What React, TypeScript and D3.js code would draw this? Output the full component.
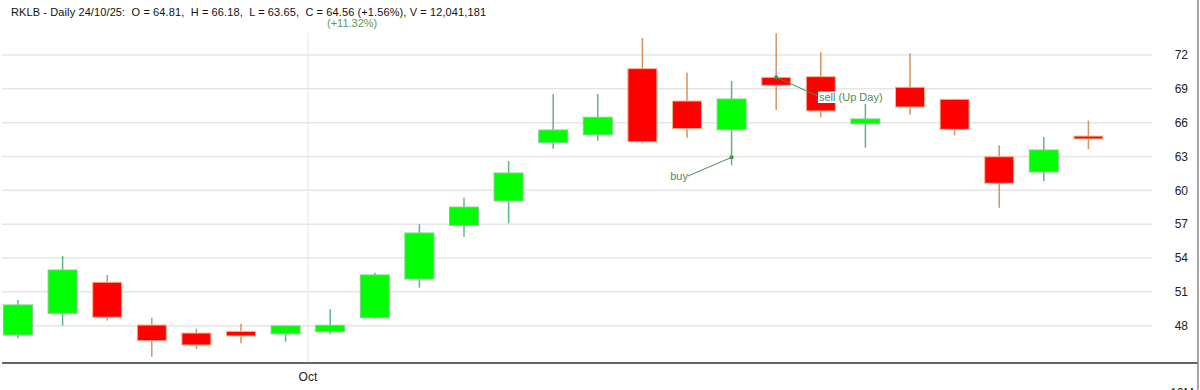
import React from "react";
import * as d3 from "d3";

const dates = [
  "2025-09-22", "2025-09-23", "2025-09-24", "2025-09-25", "2025-09-26", "2025-09-29", "2025-09-30",
  "2025-10-01", "2025-10-02", "2025-10-03", "2025-10-06", "2025-10-07", "2025-10-08", "2025-10-09",
  "2025-10-10", "2025-10-13", "2025-10-14", "2025-10-15", "2025-10-16", "2025-10-17", "2025-10-20",
  "2025-10-21", "2025-10-22", "2025-10-23", "2025-10-24",
];
const opens = [47.18, 49.1, 51.85, 48.06, 47.35, 47.5, 47.29, 47.47, 48.71, 52.14, 56.9, 59.06, 64.23, 64.93, 70.79, 67.92, 65.38, 70.02, 70.08, 65.91, 69.14, 68.07, 62.98, 61.63, 64.81];
const highs = [50.28, 54.18, 52.5, 48.71, 47.74, 48.18, 48.06, 49.46, 52.7, 56.99, 59.35, 62.6, 68.54, 68.54, 73.51, 70.43, 69.7, 73.92, 72.27, 67.66, 72.15, 68.07, 64.0, 64.73, 66.18];
const lows = [46.88, 48.0, 48.45, 45.25, 45.94, 46.44, 46.58, 47.24, 48.62, 51.37, 55.89, 57.08, 63.69, 64.4, 64.17, 64.67, 62.22, 67.12, 66.48, 63.78, 66.71, 64.88, 58.46, 60.8, 63.65];
const closes = [49.84, 52.94, 48.75, 46.67, 46.29, 47.09, 47.98, 48.04, 52.5, 56.22, 58.52, 61.54, 65.35, 66.48, 64.31, 65.47, 68.1, 69.31, 67.04, 66.33, 67.39, 65.41, 60.63, 63.58, 64.56];
const yTicks = [48, 51, 54, 57, 60, 63, 66, 69, 72];
const monthLabels = ["Oct"];
const title = "RKLB - Daily 24/10/25:  O = 64.81,  H = 66.18,  L = 63.65,  C = 64.56 (+1.56%), V = 12,041,181";
const subTitle = "(+11.32%)";
const signalDates = ["2025-10-14", "2025-10-15"];
const signalPrices = [62.93, 70.02];
const signalLabels = ["buy", "sell (Up Day)"];

export default function App() {
  const W = 1200, H = 390;
  const x = d3.scaleBand<string>().domain(dates).range([-4.3, 1110.7]).paddingInner(0.35).paddingOuter(0.175);
  const y = d3.scaleLinear().domain([48, 72]).range([325.7, 55]);
  const cx = (d: string) => (x(d) as number) + x.bandwidth() / 2;
  const bw = x.bandwidth();
  const octX = (cx("2025-09-30") + cx("2025-10-01")) / 2;
  const font = "'Liberation Sans', Arial, sans-serif";
  const sigColor = "#4f8a55";

  const buyX = cx(signalDates[0]), buyY = y(signalPrices[0]);
  const sellX = cx(signalDates[1]), sellY = y(signalPrices[1]);

  return (
    <svg width={W} height={H} style={{ position: "fixed", left: 0, top: 0, background: "#fff" }} fontFamily={font}>
      <rect x={0} y={0} width={W} height={H} fill="#fff" />
      {yTicks.map((t) => (
        <line key={t} x1={2} x2={1152} y1={y(t)} y2={y(t)} stroke="#e6e6e6" strokeWidth={1.5} />
      ))}
      <line x1={octX} x2={octX} y1={33} y2={363} stroke="#e6e6e6" strokeWidth={1} />
      {dates.map((d, i) => {
        const up = closes[i] >= opens[i];
        const top = y(Math.max(opens[i], closes[i]));
        const bot = y(Math.min(opens[i], closes[i]));
        const c = cx(d);
        return (
          <g key={d}>
            <line x1={c} x2={c} y1={y(highs[i])} y2={y(lows[i])} stroke={up ? "#5cb880" : "#d4935e"} strokeWidth={1.5} />
            <rect x={c - bw / 2} y={top} width={bw} height={Math.max(bot - top, 2)} fill={up ? "#00ff00" : "#ff0000"}
              stroke={up ? "#7ccf8a" : "#f3b58c"} strokeWidth={1} />
          </g>
        );
      })}
      <line x1={buyX} y1={buyY} x2={688} y2={176} stroke={sigColor} strokeWidth={1} />
      <circle cx={buyX} cy={buyY} r={2} fill={sigColor} />
      <text x={688} y={180} fontSize={11} fill={sigColor} textAnchor="end">{signalLabels[0]}</text>
      <line x1={sellX} y1={sellY} x2={818} y2={96} stroke={sigColor} strokeWidth={1} />
      <circle cx={sellX} cy={sellY} r={2} fill={sigColor} />
      <rect x={818} y={91.5} width={66} height={11.5} fill="#fff" />
      <text x={819} y={101} fontSize={11} fill={sigColor}>{signalLabels[1]}</text>
      <line x1={2} x2={1198} y1={363} y2={363} stroke="#666" strokeWidth={2} />
      <line x1={1198} x2={1198} y1={0} y2={H} stroke="#888" strokeWidth={1.5} />
      {yTicks.map((t) => (
        <text key={t} x={1188} y={y(t)} dy="0.35em" fontSize={12} fill="#222" textAnchor="end">{t}</text>
      ))}
      {monthLabels.map((m) => (
        <text key={m} x={octX} y={381} fontSize={12} fill="#222" textAnchor="middle">{m}</text>
      ))}
      <text x={1182} y={397} fontSize={12} fill="#222" textAnchor="middle">10M</text>
      <text x={11} y={16} fontSize={11} fill="#111" style={{ whiteSpace: "pre" }} textLength={475} lengthAdjust="spacing">{title}</text>
      <text x={327} y={27} fontSize={11} fill="#5a9a55">{subTitle}</text>
    </svg>
  );
}
